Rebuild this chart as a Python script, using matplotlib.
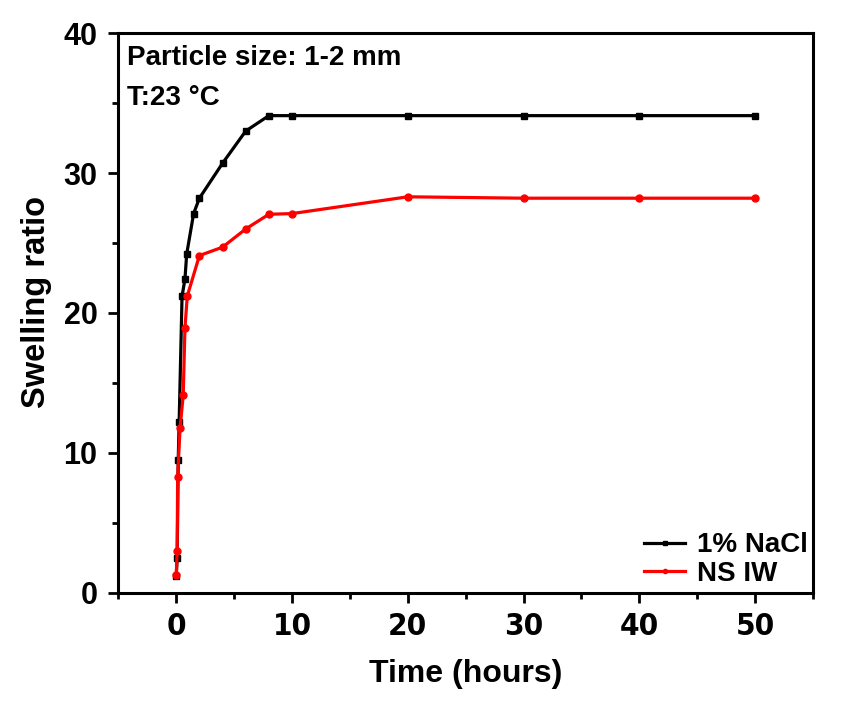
import matplotlib
matplotlib.use('Agg')
import matplotlib.pyplot as plt
from matplotlib import font_manager
from matplotlib.ticker import MultipleLocator

# Swelling kinetics, particle size 1-2 mm at 23 °C
time_nacl = [0, 0.08, 0.17, 0.25, 0.5, 0.75, 0.9, 1.5, 2, 4, 6, 8, 10, 20, 30, 40, 50]
swell_nacl = [1.2, 2.5, 9.5, 12.2, 21.2, 22.4, 24.2, 27.1, 28.2, 30.7, 33.0, 34.1,
              34.1, 34.1, 34.1, 34.1, 34.1]

time_nsiw = [0, 0.08, 0.12, 0.33, 0.6, 0.75, 0.95, 2, 4, 6, 8, 10, 20, 30, 40, 50]
swell_nsiw = [1.3, 3.0, 8.3, 11.8, 14.1, 18.9, 21.2, 24.1, 24.7, 26.0, 27.05, 27.1,
              28.3, 28.2, 28.2, 28.2]

plt.rcParams['font.family'] = ['Liberation Sans', 'DejaVu Sans']
plt.rcParams['font.weight'] = 'bold'

# upright bold narrow face for the time ticks, if one is installed
narrow = None
for f in font_manager.fontManager.ttflist:
    upright = f.style == 'normal' and 'Italic' not in f.fname and 'Oblique' not in f.fname
    bold = f.weight in (700, 'bold') or 'Bold' in f.fname
    if upright and bold and ('Narrow' in f.name or 'Condensed' in f.fname):
        if narrow is None or 'Liberation' in f.fname:
            narrow = f.fname

fig = plt.figure(figsize=(8.64, 7.04), dpi=100)
ax = fig.add_axes([0.137, 0.158, 0.804, 0.795])

ax.plot(time_nacl, swell_nacl, color='black', lw=2.3, marker='s', ms=5,
        label='1% NaCl')
ax.plot(time_nsiw, swell_nsiw, color='red', lw=2.3, marker='o', ms=5,
        label='NS IW')

ax.set_xlim(-5, 55)
ax.set_ylim(0, 40)
ax.xaxis.set_major_locator(MultipleLocator(10))
ax.xaxis.set_minor_locator(MultipleLocator(5))
ax.yaxis.set_major_locator(MultipleLocator(10))
ax.yaxis.set_minor_locator(MultipleLocator(5))
ax.tick_params(which='both', direction='out', width=2)
ax.tick_params(which='major', length=7)
ax.tick_params(axis='y', labelsize=22, pad=8)
ax.tick_params(axis='x', pad=7)
ax.tick_params(which='minor', length=4)
for lbl in ax.get_xticklabels():
    if narrow:
        lbl.set_fontproperties(font_manager.FontProperties(fname=narrow, size=22.5))
    else:
        lbl.set_fontsize(21)
for s in ax.spines.values():
    s.set_linewidth(2.2)

ax.set_xlabel('Time (hours)', fontsize=23, fontweight='bold', labelpad=13)
ax.set_ylabel('Swelling ratio', fontsize=23.5, fontweight='bold')
ax.yaxis.set_label_coords(-0.096, 0.52)

ax.text(0.013, 0.943, 'Particle size: 1-2 mm', transform=ax.transAxes,
        fontsize=20, fontweight='bold', va='baseline')
ax.text(0.013, 0.871, 'T:23 °C', transform=ax.transAxes,
        fontsize=20, fontweight='bold', va='baseline')

ax.legend(loc='lower right', frameon=False, fontsize=20, handlelength=1.5,
          markerscale=0.6, borderaxespad=0.0, handletextpad=0.4, labelspacing=0.1,
          borderpad=0.2)

fig.savefig('out.png', dpi=100)
